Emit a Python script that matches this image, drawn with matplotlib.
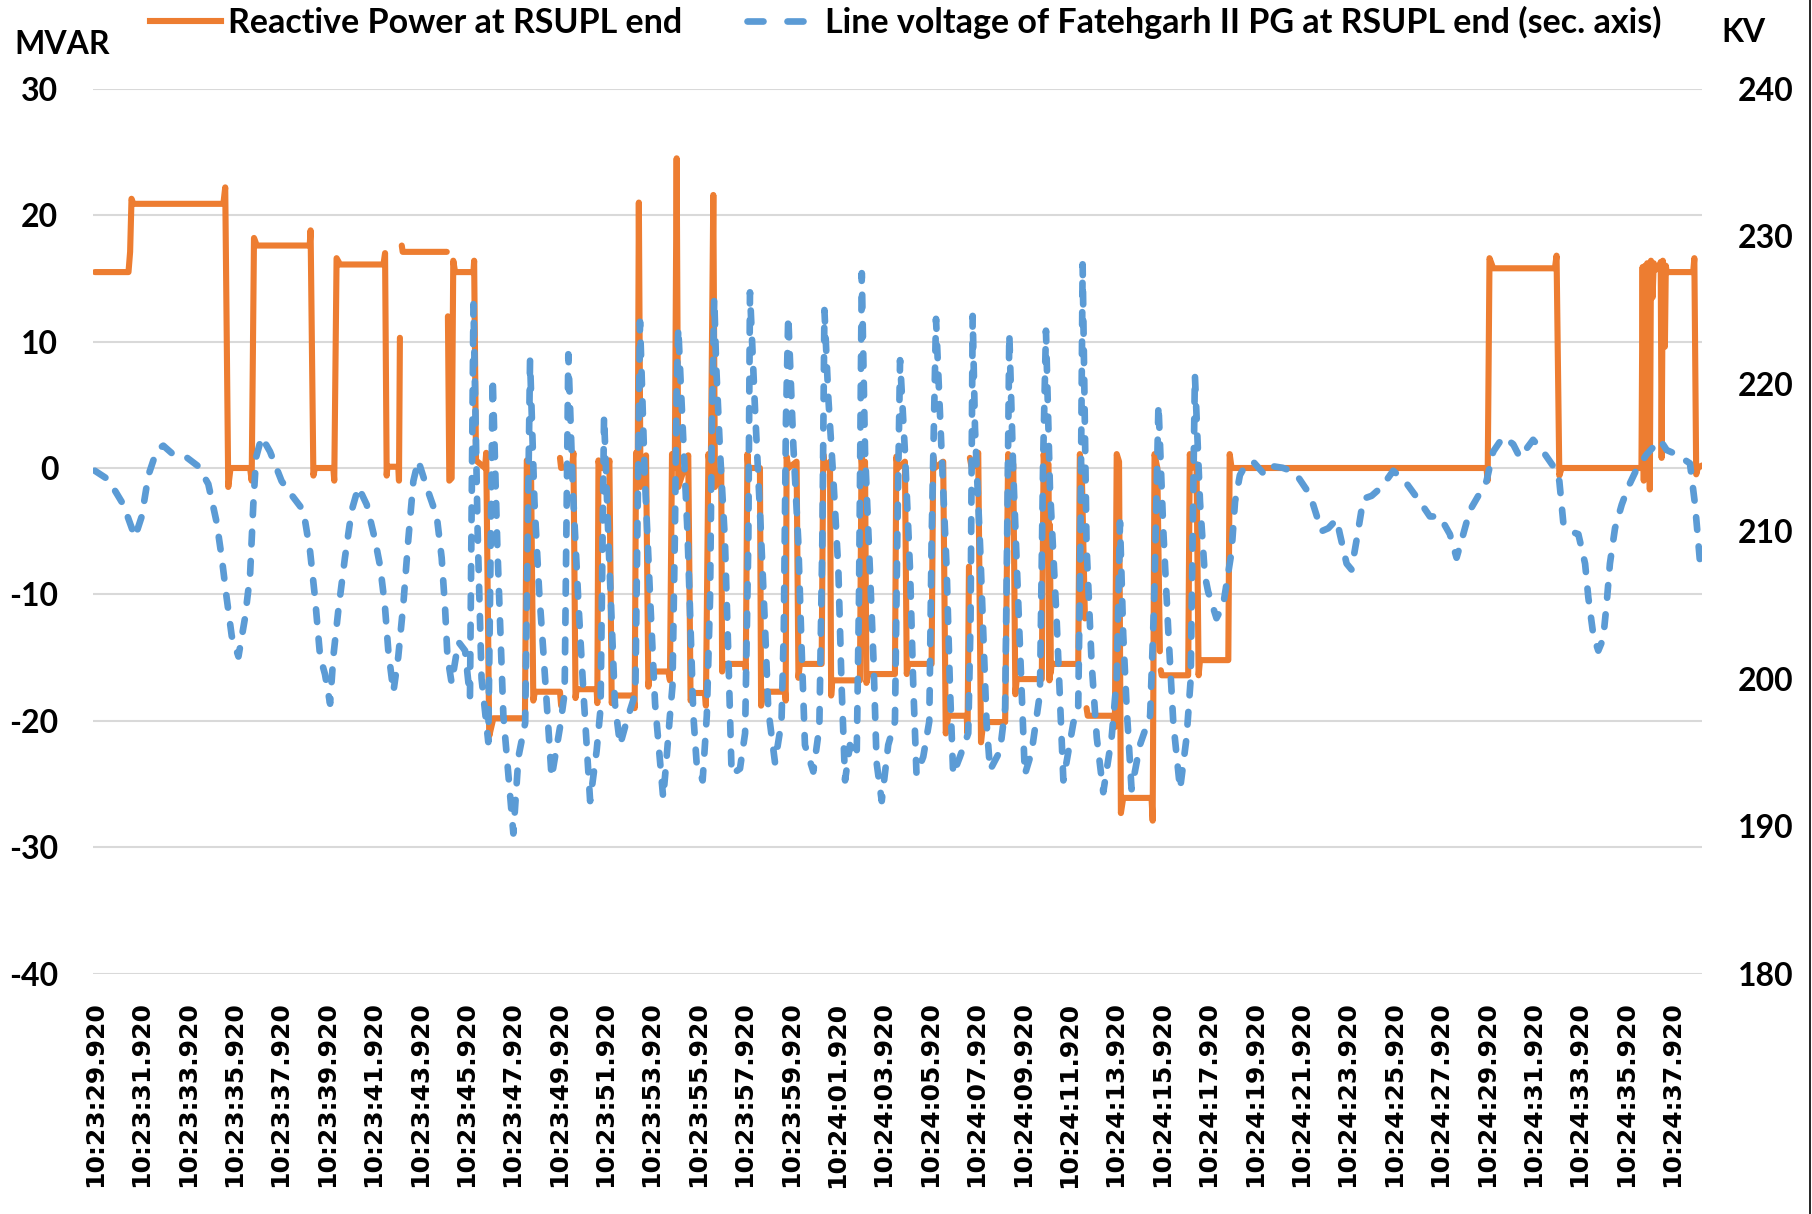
import matplotlib
matplotlib.use("Agg")
import matplotlib.pyplot as plt
from matplotlib.lines import Line2D

nan = float("nan")

# ---------------- data ----------------
# seconds after 10:23:29.920
orange_t = [0.00, 1.45, 1.52, 1.58, 1.66, 5.54, 5.62, 5.75, 5.85, 6.69, 6.76, 6.86, 6.98, 9.26, 9.30, 9.42, 9.49,
            10.28, 10.32, 10.42, 10.57, 12.44, 12.51, 12.58, 12.61, 13.08, 13.11, 13.15, nan, 13.23, 13.27, 15.17, nan,
            15.22, 15.28, 15.38, 15.45, 15.53, 16.32, 16.35, 16.43, 16.82, 16.87, 17.00, 17.18, 18.54, 18.62, 18.80,
            18.90, 18.97, 20.05, 20.10, nan, 20.05, 20.10, 20.58, 20.63, 20.72, 20.77, 21.63, 21.66, 21.71, 21.76,
            22.14, 22.18, 22.28, 22.35, 23.21, 23.27, 23.33, 23.40, 23.45, 23.52, 23.71, 23.76, 23.86, 23.93, 24.72,
            24.79, 24.88, 25.00, 25.08, 25.15, 25.50, 25.58, 25.68, 25.80, 26.30, 26.34, 26.45, 26.55, 26.66, 26.73,
            27.00, 27.04, 27.09, 28.03, 28.06, 28.13, 28.17, 28.67, 28.72, 28.82, 29.75, 29.78, 29.82, 29.90, 30.25,
            30.33, 30.39, 31.33, 31.40, 31.47, 31.69, 31.74, 31.79, 32.98, 33.05, 33.10, 33.20, 33.26, 33.34, 34.49,
            34.55, 34.62, 34.92, 35.00, 35.06, 36.07, 36.14, 36.20, 36.57, 36.68, 36.79, 37.58, 37.62, 37.68, nan,
            37.72, 37.80, 37.94, 38.08, 38.20, 38.30, 39.24, 39.37, 39.45, 39.59, 39.68, 39.74, 40.82, 40.90, 40.96,
            41.11, 41.15, 41.17, 41.21, 41.24, 42.39, 42.46, 42.54, 42.68, nan, 42.75, 42.80, 43.90, 43.97, 44.05,
            44.15, 44.23, 44.33, 45.55, 45.60, 45.68, 45.80, 45.91, nan, 45.95, 45.99, 47.13, 47.20, 47.28, 47.49,
            47.58, 47.64, 48.86, 48.92, 49.00, 59.99, 60.04, 60.12, 60.28, 62.94, 63.01, 63.13, 63.23, 66.67, 66.72,
            66.77, 66.82, 66.87, 66.92, 66.98, 67.03, 67.08, 67.15, 67.20, 67.28, 67.45, 67.50, 67.54, 67.59, 67.64,
            67.68, 67.72, 67.76, 68.90, 68.95, 69.03, 69.10, 69.28]
orange_v = [15.5, 15.5, 17.1, 21.3, 20.9, 20.9, 22.2, -1.5, 0.0, 0.0, -1.0, 18.2, 17.6, 17.6, 18.8, -0.6, 0.0,
            0.0, -1.0, 16.6, 16.1, 16.1, 17.0, -0.6, 0.1, 0.1, -1.0, 10.3, nan, 17.6, 17.1, 17.1, nan,
            12.0, -1.0, -0.8, 16.4, 15.5, 15.5, 16.4, 0.6, 0.0, 1.2, -21.2, -19.8, -19.8, 0.6, 0.3,
            -18.4, -17.7, -17.7, -18.8, nan, 0.8, 0.0, 0.2, 1.2, -18.2, -17.5, -17.5, -18.6, 0.6, 0.0,
            0.0, 0.6, -18.6, -18.0, -18.0, -19.0, 1.2, -1.0, 21.0, -1.5, -0.5, 1.0, -17.3, -16.1, -16.1,
            -16.8, 1.1, 0.0, 24.5, -1.5, 0.5, 1.0, -18.4, -17.8, -17.8, -18.8, 1.1, -0.5, 21.6, -1.5,
            0.0, -16.1, -15.5, -15.5, -16.0, 1.1, 0.0, 0.0, -18.8, -17.7, -17.7, -18.4, 0.9, 0.0, 0.5,
            -16.6, -15.5, -15.5, 1.1, 0.0, 0.5, -18.0, -16.8, -16.8, 0.9, -0.5, 0.5, -17.0, -16.3, -16.3,
            0.9, 0.0, 0.5, -16.3, -15.5, -15.5, 0.9, 0.0, 0.5, -21.0, -19.6, -19.6, -21.0, -7.8, nan,
            0.8, 0.0, 0.3, 1.2, -21.7, -20.1, -20.1, 1.1, 0.0, 0.3, -17.9, -16.7, -16.7, 1.1, 0.0,
            0.3, -16.8, -4.5, -16.2, -15.5, -15.5, 1.1, 0.0, -11.9, nan, -19.0, -19.6, -19.6, -20.5, 1.1,
            0.5, -27.3, -26.1, -26.1, -27.9, 1.1, 0.0, -14.5, nan, -16.0, -16.4, -16.4, 1.1, 0.0, 0.3,
            -16.4, -15.2, -15.2, 1.1, 0.0, 0.0, -1.0, 16.6, 15.8, 15.8, 16.8, -0.6, 0.0, 0.0, 15.9,
            -1.0, 16.0, -0.5, 16.2, 15.6, -1.7, 16.4, 13.5, 16.2, 15.7, 15.8, 16.3, 0.8, 16.4, 15.7,
            9.6, 16.0, 15.5, 15.5, 16.6, -0.5, 0.0, 0.2]

blue_t = [0.00, 0.58, 1.23, 1.73, 2.02, 2.31, 2.67, 2.95, 3.31, 3.96, 4.46, 4.89, 5.25, 5.47, 5.68, 5.90, 6.19,
          6.47, 6.69, 6.83, 6.95, 7.19, 7.55, 8.05, 8.41, 8.99, 9.28, 9.49, 9.71, 9.92, 10.14, 10.28, 10.50,
          10.78, 11.07, 11.36, 11.72, 12.08, 12.30, 12.50, 12.65, 12.87, 13.08, 13.30, 13.51, 13.73, 13.94,
          14.30, 14.74, 14.95, 15.10, 15.20, 15.38, 15.67, 15.96, 16.17, 16.32, 16.50, 16.67, 16.96, 17.15,
          17.35, 17.61, 18.04, 18.26, 18.55, 18.76, 18.95, 19.15, 19.33, 19.69, 20.05, 20.25, 20.41, 20.60,
          20.85, 21.06, 21.35, 21.63, 21.80, 21.95, 22.15, 22.42, 22.64, 22.92, 23.30, 23.50, 23.70, 23.95,
          24.15, 24.50, 24.65, 24.79, 24.90, 25.00, 25.08, 25.15, 25.25, 25.40, 25.55, 25.68, 25.80, 25.94,
          26.20, 26.38, 26.52, 26.60, 26.70, 26.78, 26.95, 27.16, 27.31, 27.45, 27.81, 28.03, 28.17, 28.24,
          28.46, 28.67, 28.89, 29.03, 29.32, 29.60, 29.70, 29.79, 29.89, 30.11, 30.32, 30.47, 30.61, 30.97,
          31.23, 31.36, 31.45, 31.62, 31.84, 32.05, 32.19, 32.34, 32.55, 32.84, 32.94, 33.06, 33.20, 33.41,
          33.56, 33.70, 33.92, 34.20, 34.49, 34.59, 34.71, 34.92, 35.14, 35.28, 35.42, 35.71, 35.97, 36.07,
          36.26, 36.50, 36.72, 36.86, 37.00, 37.29, 37.65, 37.75, 37.84, 37.94, 38.16, 38.30, 38.44, 38.59,
          39.02, 39.24, 39.33, 39.42, 39.59, 39.81, 40.09, 40.38, 40.74, 40.88, 41.00, 41.17, 41.46, 41.75,
          42.18, 42.39, 42.49, 42.58, 42.75, 42.97, 43.19, 43.47, 43.83, 44.05, 44.19, 44.33, 44.48, 44.69,
          45.05, 45.49, 45.66, 45.85, 46.06, 46.28, 46.49, 46.78, 47.06, 47.24, 47.42, 47.64, 47.85, 47.99,
          48.35, 48.64, 49.00, 49.15, 49.36, 49.65, 49.94, 50.44, 50.80, 51.20, 51.73, 52.24, 52.52, 52.88,
          53.17, 53.53, 53.67, 53.96, 54.17, 54.39, 54.68, 55.04, 55.47, 55.97, 56.47, 57.12, 57.55, 57.98,
          58.41, 58.70, 58.99, 59.27, 59.71, 59.99, 60.28, 60.71, 61.14, 61.43, 62.00, 62.43, 62.87, 63.13,
          63.30, 63.59, 63.95, 64.24, 64.38, 64.60, 64.81, 65.02, 65.17, 65.31, 65.53, 65.82, 66.10, 66.46,
          66.89, 67.47, 67.76, 68.19, 68.76, 68.98, 69.20]
blue_v = [214.1, 213.5, 211.8, 209.6, 211.0, 213.8, 215.5, 215.8, 215.3, 215.0, 214.4, 213.2, 210.6, 208.2, 205.5,
          202.9, 201.5, 204.1, 207.0, 211.8, 215.0, 216.4, 215.4, 213.4, 212.6, 211.4, 208.6, 205.5, 201.5, 200.3,
          198.3, 201.5, 204.7, 208.2, 211.4, 213.0, 211.8, 209.4, 207.6, 205.0, 201.9, 199.1, 201.5, 205.1, 209.4,
          213.4, 214.8, 213.0, 211.0, 208.2, 204.7, 201.5, 199.7, 202.5, 201.9, 198.7, 225.4, 210.0, 200.0, 195.7,
          220.4, 209.0, 197.5, 189.5, 194.7, 197.0, 221.6, 212.0, 206.0, 201.9, 193.3, 196.7, 199.0, 222.0, 213.0,
          205.0, 199.1, 191.7, 195.1, 198.0, 217.8, 209.0, 198.3, 195.5, 197.1, 199.0, 224.2, 214.0, 205.0,
          198.3, 191.9, 194.7, 197.5, 199.5, 209.4, 219.4, 223.8, 220.2, 215.0, 209.8, 203.5, 197.5, 194.3,
          193.1, 197.5, 205.5, 217.4, 225.8, 221.4, 215.4, 209.4, 201.5, 193.5, 193.9, 196.3, 209.4, 226.2,
          218.2, 211.4, 203.5, 197.9, 194.3, 197.1, 203.5, 217.4, 224.6, 215.8, 209.4, 201.9, 195.5, 193.7,
          196.7, 209.4, 225.0, 219.0, 213.4, 207.4, 199.5, 193.1, 195.5, 194.7, 205.5, 227.5, 215.4, 207.4,
          201.5, 194.3, 191.7, 195.5, 197.1, 209.4, 221.6, 215.4, 207.4, 199.5, 193.5, 194.7, 197.1, 209.4,
          224.4, 215.4, 207.4, 199.5, 193.5, 194.7, 196.3, 204.0, 224.6, 217.0, 209.0, 203.0, 197.0, 193.8,
          195.1, 198.0, 210.0, 223.4, 214.0, 205.0, 193.5, 195.0, 199.0, 215.0, 223.6, 213.0, 204.0, 193.1,
          197.0, 198.0, 210.0, 228.1, 209.0, 201.0, 196.0, 192.3, 196.0, 200.0, 210.6, 203.0, 198.0, 192.5,
          195.5, 197.5, 205.0, 218.6, 210.0, 203.0, 197.0, 192.5, 196.0, 200.0, 220.6, 212.0, 207.0, 205.9,
          204.1, 205.0, 208.6, 212.0, 213.8, 214.6, 214.7, 213.8, 214.4, 214.3, 214.0, 212.8, 211.8, 210.0,
          210.2, 210.8, 209.8, 207.8, 207.4, 209.4, 212.2, 212.4, 213.0, 214.1, 213.4, 212.0, 211.0, 211.0,
          209.8, 208.2, 209.8, 211.4, 212.6, 213.4, 215.4, 216.4, 215.9, 215.0, 216.2, 215.4, 214.4, 213.4,
          210.6, 210.0, 209.8, 207.8, 205.5, 202.9, 201.9, 202.7, 205.1, 207.8, 210.2, 211.8, 213.0, 214.2,
          215.2, 216.2, 215.5, 215.2, 214.6, 211.8, 207.8]

tick_pos = list(range(0, 69, 2))
tick_labels = ["10:23:29.920", "10:23:31.920", "10:23:33.920", "10:23:35.920", "10:23:37.920",
               "10:23:39.920", "10:23:41.920", "10:23:43.920", "10:23:45.920", "10:23:47.920",
               "10:23:49.920", "10:23:51.920", "10:23:53.920", "10:23:55.920", "10:23:57.920",
               "10:23:59.920", "10:24:01.920", "10:24:03.920", "10:24:05.920", "10:24:07.920",
               "10:24:09.920", "10:24:11.920", "10:24:13.920", "10:24:15.920", "10:24:17.920",
               "10:24:19.920", "10:24:21.920", "10:24:23.920", "10:24:25.920", "10:24:27.920",
               "10:24:29.920", "10:24:31.920", "10:24:33.920", "10:24:35.920", "10:24:37.920"]
left_ticks = [-40, -30, -20, -10, 0, 10, 20, 30]
right_ticks = [180, 190, 200, 210, 220, 230, 240]
series_names = ["Reactive Power at RSUPL end",
                "Line voltage of Fatehgarh II PG at RSUPL end (sec. axis)"]

# ---------------- styling ----------------
plt.rcParams['font.family'] = ['Lato', 'DejaVu Sans']
plt.rcParams['font.weight'] = 'bold'
ORANGE = '#ED7D31'
BLUE = '#5B9BD5'
W, H = 1812, 1214

fig = plt.figure(figsize=(W / 100, H / 100), dpi=100)
left, right, top, bottom = 93, 1702, 88.8, 973.6
ax = fig.add_axes([left / W, 1 - bottom / H, (right - left) / W, (bottom - top) / H])
ax.set_xlim(-0.08, 69.28)
ax.set_ylim(-40, 30)
ax.set_yticks(left_ticks)
ax.set_yticklabels([str(v) for v in left_ticks])
ax.grid(axis='y', color='#D9D9D9', lw=1.5)
ax.set_axisbelow(True)
ax.tick_params(axis='y', length=0, pad=25, labelsize=23)
ax.set_xticks(tick_pos)
ax.set_xticklabels(tick_labels, rotation=90, fontfamily='DejaVu Sans', fontweight='bold', fontsize=18)
ax.tick_params(axis='x', length=0, pad=20)
for s in ax.spines.values():
    s.set_visible(False)

ax.plot(orange_t, orange_v, color=ORANGE, lw=4.4, solid_joinstyle='round', solid_capstyle='round')

ax2 = ax.twinx()
ax2.set_ylim(180, 240)
ax2.set_yticks(right_ticks)
ax2.set_yticklabels([str(v) for v in right_ticks])
ax2.tick_params(axis='y', length=0, pad=26, labelsize=23)
for s in ax2.spines.values():
    s.set_visible(False)
ax2.plot(blue_t, blue_v, color=BLUE, lw=4.8, dashes=(1.9, 2.5), dash_capstyle='round')

handles = [Line2D([], [], color=ORANGE, lw=4.4),
           Line2D([], [], color=BLUE, lw=4.8, dashes=(2.4, 3.6), dash_capstyle='round')]
fig.legend(handles, series_names, loc='center', bbox_to_anchor=(0.5, 1 - 22 / H), ncol=2,
           frameon=False, fontsize=24.5, handlelength=2.1, handletextpad=0.2, columnspacing=1.9)

fig.text(14 / W, 1 - 44 / H, 'MVAR', ha='left', va='center', fontsize=23)
fig.text(1743 / W, 1 - 32 / H, 'KV', ha='center', va='center', fontsize=23)
fig.add_artist(Line2D([1809.5 / W, 1809.5 / W], [0, 1], color='black', lw=1.2))

fig.savefig('out.png', dpi=100, facecolor='white')
